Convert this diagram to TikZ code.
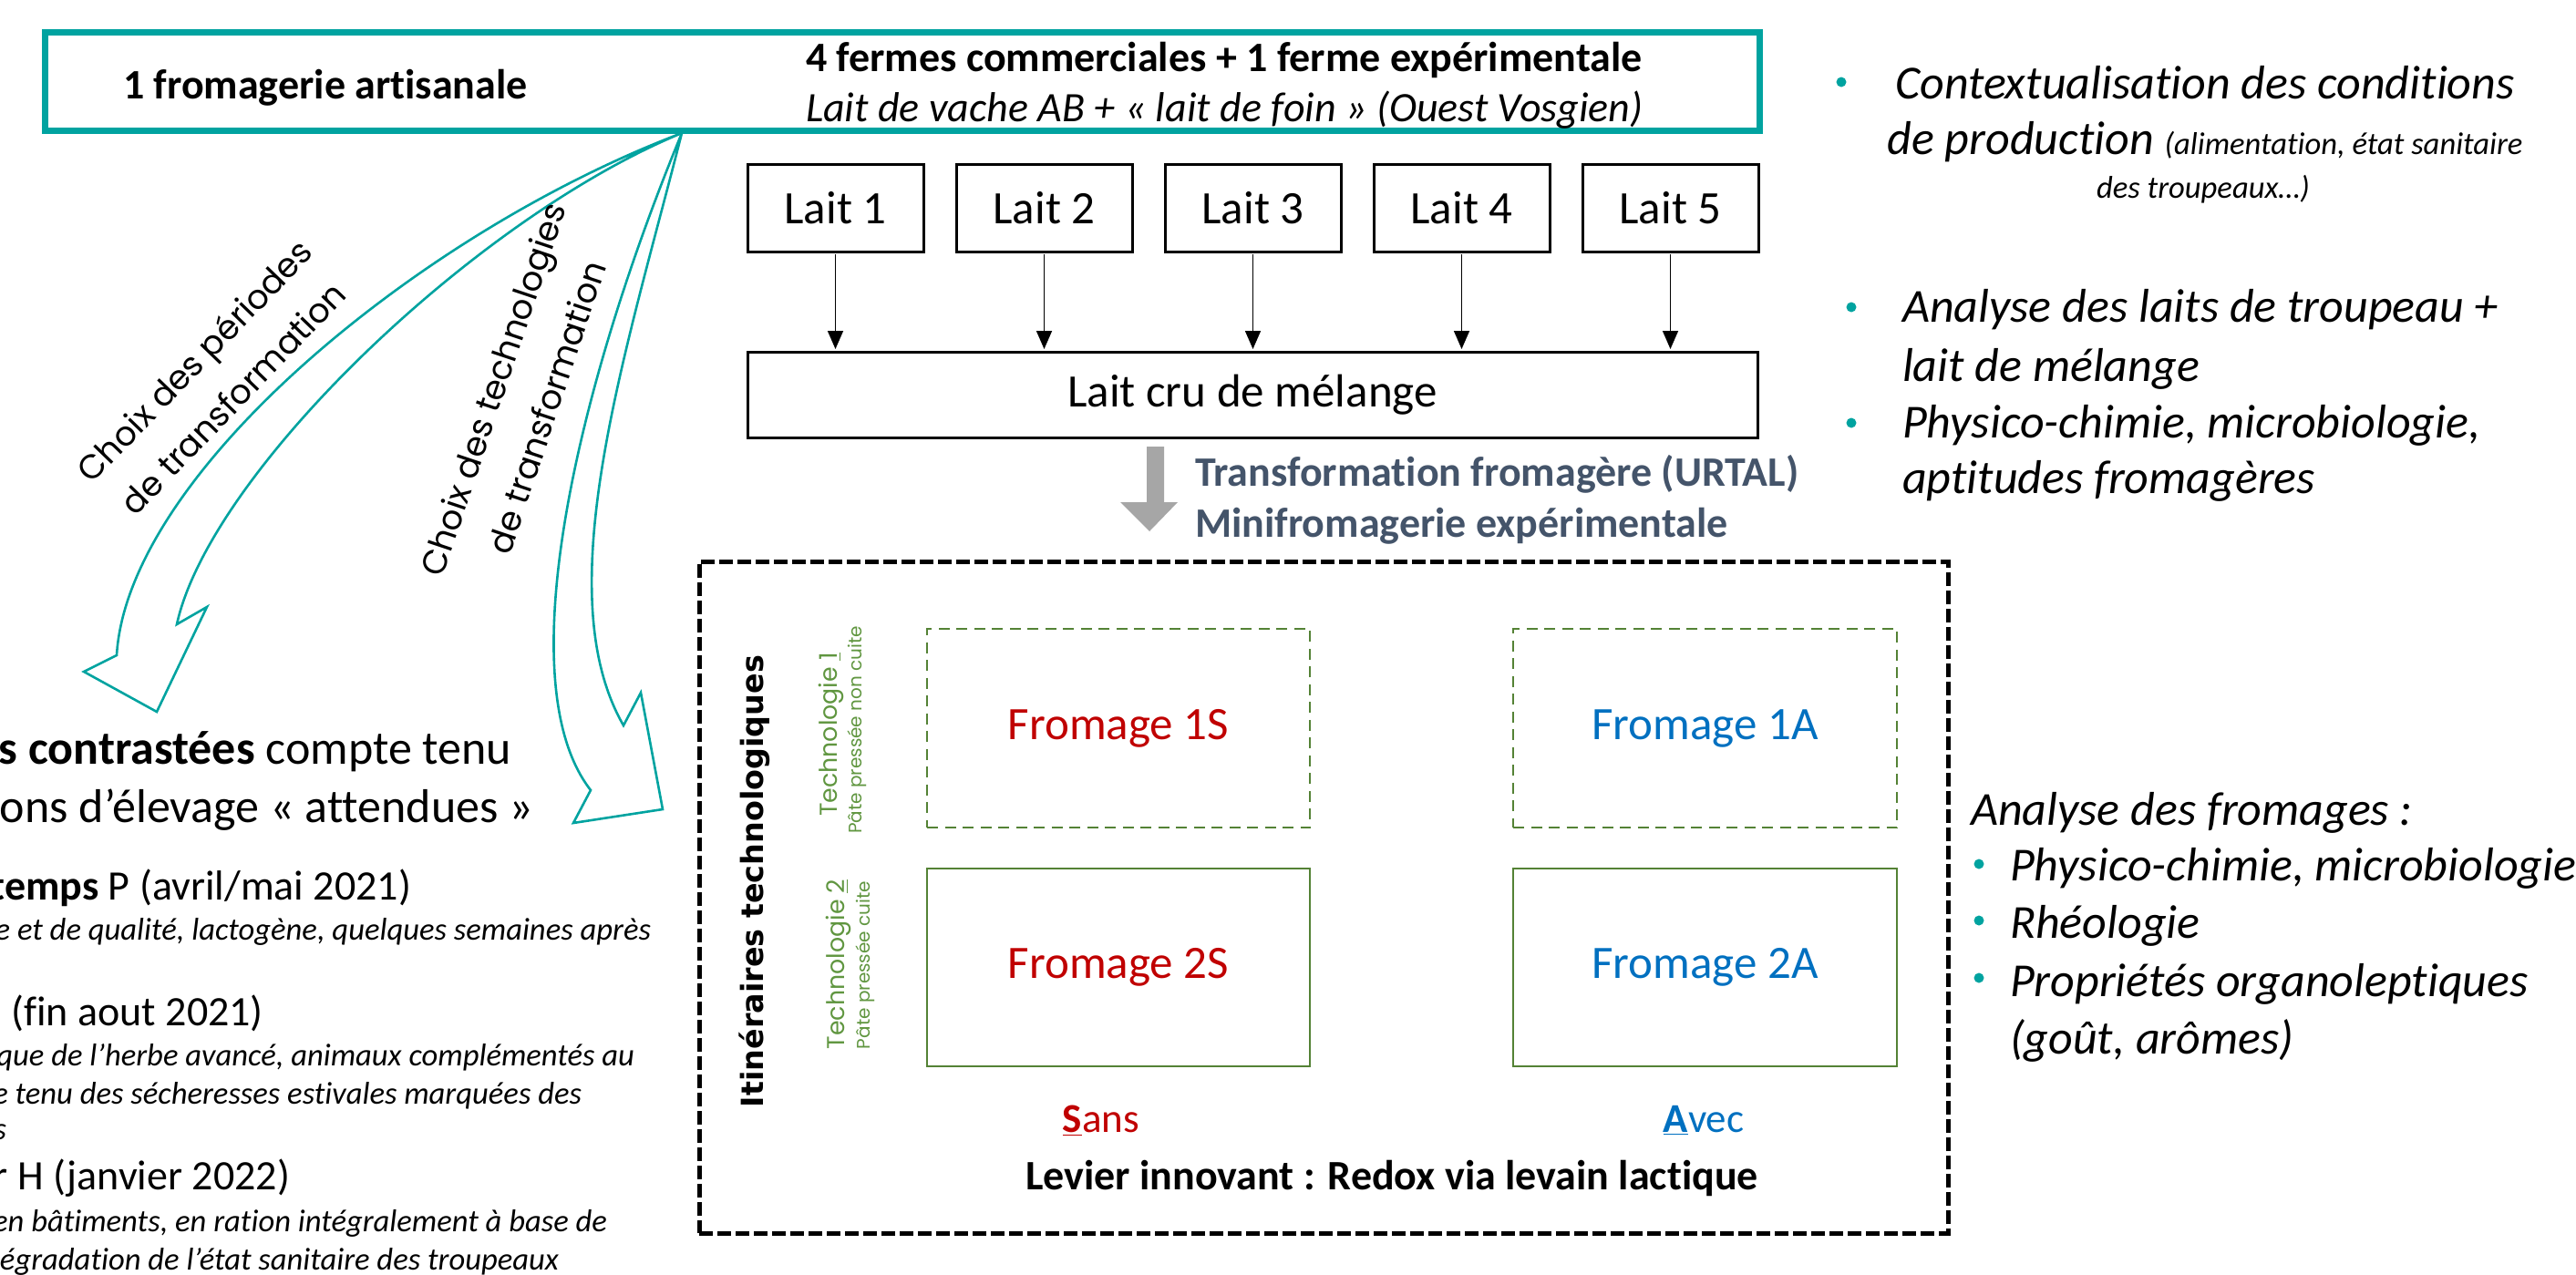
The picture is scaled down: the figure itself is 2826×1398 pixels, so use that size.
\documentclass[tikz,border=0pt]{standalone}
\usepackage{fontspec}
\setmainfont{Carlito}[Ligatures=NoCommon]
\newfontfamily\gothic{Poppins}[Ligatures=NoCommon]
\newfontfamily\verd{DejaVu Sans}
\usetikzlibrary{arrows.meta}
\definecolor{tealc}{RGB}{0,163,160}
\definecolor{greenbox}{RGB}{84,130,53}
\definecolor{greentxt}{RGB}{96,150,64}
\definecolor{redc}{RGB}{192,0,0}
\definecolor{bluec}{RGB}{0,112,192}
\definecolor{slate}{RGB}{68,84,106}
\definecolor{greyarr}{RGB}{166,166,166}
\newcommand{\fs}[2]{\fontsize{#1}{#2}\selectfont}
\begin{document}
\begin{tikzpicture}[x=0.5pt,y=-0.5pt,every node/.style={inner sep=0pt,outer sep=0pt},
  laitbox/.style={draw,line width=1.5pt,minimum width=96.5pt,minimum height=48pt,font=\fs{25.5}{31}},
  fbox/.style={draw=greenbox,line width=1.25pt,minimum width=210pt,minimum height=109pt,font=\fs{25.5}{31}},
  greendash/.style={dash pattern=on 6pt off 3.75pt},
  arr/.style={-{Triangle[length=10pt,width=8.5pt]},line width=0.8pt,shorten <=1.5pt,shorten >=1.5pt},
  tealarr/.style={draw=tealc,line width=1.3pt,line join=miter},
  txt/.style={anchor=base west},
  ltxt/.style={anchor=base east},
  bigl/.style={font=\fs{26}{32}},
  subl/.style={font=\fs{23}{28}},
  itl/.style={font=\fs{17.3}{21}\itshape},
  rtxt/.style={anchor=base west,font=\fs{26}{32}\itshape}]
\useasboundingbox (0,0) rectangle (2826,1398);
\clip (0,0) rectangle (2826,1398);

% top teal box
\node (top) [draw=tealc,line width=3.5pt,minimum width=940.5pt,minimum height=54pt] at (990,89.5) {};
\node (fromag) [txt,font=\fs{23}{28}\bfseries] at (135,108) {1 fromagerie artisanale};
\node (fermes) [txt,font=\fs{23}{28}\bfseries] at (884,78) {4 fermes commerciales + 1 ferme expérimentale};
\node (laitAB) [txt,font=\fs{23}{28}\itshape] at (884,133) {Lait de vache AB + « lait de foin » (Ouest Vosgien)};

% milk boxes
\foreach \i in {1,...,5} {
  \node (l\i) [laitbox] at ({916.5+229*(\i-1)},228) {Lait \i};
}
\node (cru) [laitbox,minimum width=554pt,minimum height=47pt] at (1374,433) {Lait cru de mélange};
\foreach \i in {1,...,5} {
  \draw[arr] (l\i.south) -- (l\i.south |- cru.north);
}

% grey block arrow
\fill[greyarr] (1258,490) -- (1277,490) -- (1277,551) -- (1292,551) -- (1261,583) -- (1229,551) -- (1258,551) -- cycle;
\node (transf) [txt,font=\fs{23}{28}\bfseries,text=slate] at (1311,533) {Transformation fromagère (URTAL)};
\node (minif) [txt,font=\fs{23}{28}\bfseries,text=slate] at (1311,589) {Minifromagerie expérimentale};

% dashed frame
\node (cadre) [draw,line width=2.5pt,dash pattern=on 7.5pt off 2.5pt,minimum width=685pt,minimum height=368.5pt] at (1452,984.5) {};

% cheese boxes
\node (f1S) [fbox,greendash,text=redc] at (1227,799) {Fromage 1S};
\node (f2S) [fbox,text=redc,minimum height=108.5pt] at (1227,1061.5) {Fromage 2S};
\node (f1A) [fbox,greendash,text=bluec,minimum width=210.5pt] at (1870.5,799) {Fromage 1A};
\node (f2A) [fbox,text=bluec,minimum width=210.5pt,minimum height=108.5pt] at (1870.5,1061.5) {Fromage 2A};

\node (sans) [anchor=base,font=\fs{22.5}{27},text=redc] at (1208,1242) {\underline{\textbf{S}}ans};
\node (avec) [anchor=base,font=\fs{22.5}{27},text=bluec] at (1869,1242) {\underline{\textbf{A}}vec};
\node (levier) [anchor=base,font=\fs{23}{28}\bfseries] at (1527,1305) {Levier innovant : Redox via levain lactique};

\node (itin) [rotate=90,font=\verd\bfseries\fs{16.7}{20}] at (828,967) {Itinéraires technologiques};
\node (t1) [rotate=90,font=\gothic\fs{13.4}{16},text=greentxt] at (912,806) {Technologie \underline{1}};
\node (t1b) [rotate=90,font=\gothic\fs{10}{12},text=greentxt] at (940,801) {Pâte pressée non cuite};
\node (t2) [rotate=90,font=\gothic\fs{13.4}{16},text=greentxt] at (920,1058) {Technologie \underline{2}};
\node (t2b) [rotate=90,font=\gothic\fs{10}{12},text=greentxt] at (949,1059) {Pâte pressée cuite};

% curved teal arrows
\coordinate (org) at (748,146);
\draw[tealarr] (org) .. controls (460,255) and (140,520) .. (128,719) -- (92,737) -- (172,781) -- (227,666) -- (194,685) .. controls (230,520) and (520,240) .. (org) -- cycle;
\draw[tealarr] (org) .. controls (634,422) and (556,749) .. (648,867) -- (629,903) -- (727,888) -- (703,760) -- (684,796) .. controls (600,650) and (686.5,388) .. (org) -- cycle;
\node (choix1) [rotate=46,align=center,font=\gothic\fs{18.5}{29.5}] at (234,416) {Choix des périodes\\de transformation};
\node (choix2) [rotate=71.5,align=center,font=\gothic\fs{18.5}{31}] at (570,437) {Choix des technologies\\de transformation};

% left text (cut by the frame edge)
\node (p1) [ltxt,bigl] at (561,838) {\textbf{s contrastées} compte tenu};
\node (p2) [ltxt,bigl] at (585,902) {ions d’élevage « attendues »};
\node (p3) [ltxt,subl] at (451,987) {\textbf{temps} P (avril/mai 2021)};
\node (p4) [ltxt,itl] at (714,1031) {e et de qualité, lactogène, quelques semaines après};
\node (p5) [ltxt,subl] at (289,1125) {E (fin aout 2021)};
\node (p6) [ltxt,itl] at (696,1169) {que de l’herbe avancé, animaux complémentés au};
\node (p7) [ltxt,itl] at (638,1211) {e tenu des sécheresses estivales marquées des};
\node (p8) [ltxt,itl] at (7,1250) {s};
\node (p9) [ltxt,subl] at (318,1305) {r H (janvier 2022)};
\node (p10) [ltxt,itl] at (666,1351) {en bâtiments, en ration intégralement à base de};
\node (p11) [ltxt,itl] at (613,1393) {dégradation de l’état sanitaire des troupeaux};

% right text, top
\fill[tealc] (2020,90) circle (5.5);
\node (r1) [anchor=base,font=\fs{26}{32}\itshape] at (2419,108) {Contextualisation des conditions};
\node (r2) [anchor=base,font=\fs{26}{32}\itshape] at (2419,169) {de production {\fs{17.3}{21}(alimentation, état sanitaire}};
\node (r3) [anchor=base,font=\fs{17.3}{21}\itshape] at (2417,217) {des troupeaux…)};
\fill[tealc] (2031,337) circle (5.5);
\node (r4) [rtxt] at (2087,353) {Analyse des laits de troupeau +};
\node (r5) [rtxt] at (2087,418) {lait de mélange};
\fill[tealc] (2031,464) circle (5.5);
\node (r6) [rtxt] at (2087,480) {Physico-chimie, microbiologie,};
\node (r7) [rtxt] at (2087,541) {aptitudes fromagères};

% right text, bottom
\node (a0) [rtxt] at (2162,905) {Analyse des fromages :};
\fill[tealc] (2171,948) circle (5.5);
\node (a1) [rtxt] at (2205,966) {Physico-chimie, microbiologie};
\fill[tealc] (2171,1010) circle (5.5);
\node (a2) [rtxt] at (2205,1029) {Rhéologie};
\fill[tealc] (2171,1073) circle (5.5);
\node (a3) [rtxt] at (2205,1093) {Propriétés organoleptiques};
\node (a4) [rtxt] at (2205,1156) {(goût, arômes)};
\end{tikzpicture}
\end{document}
